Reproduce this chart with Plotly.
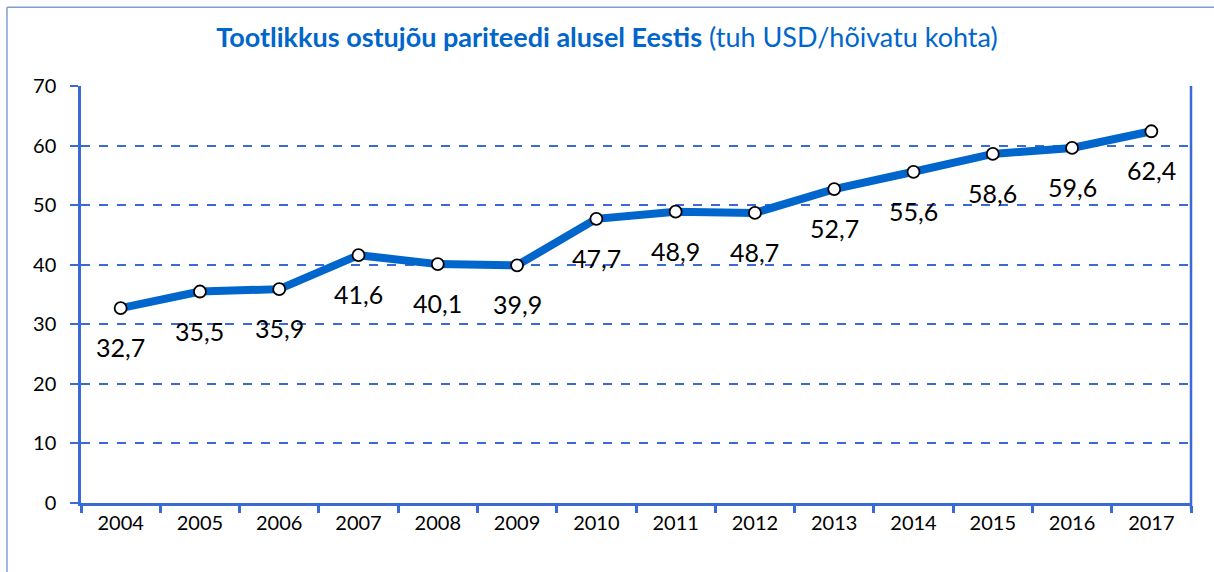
import plotly.graph_objects as go

# Labour productivity in PPP terms, Estonia
years = ["2004", "2005", "2006", "2007", "2008", "2009", "2010",
         "2011", "2012", "2013", "2014", "2015", "2016", "2017"]
productivity = [32.7, 35.5, 35.9, 41.6, 40.1, 39.9, 47.7,
                48.9, 48.7, 52.7, 55.6, 58.6, 59.6, 62.4]
y_ticks = [0, 10, 20, 30, 40, 50, 60, 70]

AXIS_BLUE = "#3A6AD4"
LINE_BLUE = "#0066CC"
FRAME_BLUE = "#7F9ED8"
FONT = "Lato, Calibri, Arial, sans-serif"

fig = go.Figure()
fig.add_trace(go.Scatter(
    x=years, y=productivity, mode="lines+markers",
    line=dict(color=LINE_BLUE, width=8),
    marker=dict(size=12, color="white", line=dict(color="black", width=1.8)),
    hoverinfo="x+y", showlegend=False,
))

# value labels under each point, decimal comma (x given as category index)
for i, v in enumerate(productivity):
    fig.add_annotation(
        x=i, y=v, xref="x", yref="y", text=f"{v:.1f}".replace(".", ","),
        showarrow=False, yshift=-39,
        font=dict(family=FONT, size=25, color="black"),
    )

# right-hand border of the plot area
fig.add_shape(type="line", xref="x domain", yref="y domain",
              x0=1, x1=1, y0=-0.014, y1=1,
              line=dict(color=AXIS_BLUE, width=2.5))

# outer chart frame (top and left edges)
fig.add_shape(type="line", xref="paper", yref="paper",
              x0=-0.0667, x1=1.03, y0=1.189, y1=1.189,
              line=dict(color=FRAME_BLUE, width=1.5))
fig.add_shape(type="line", xref="paper", yref="paper",
              x0=-0.0667, x1=-0.0667, y0=1.189, y1=-0.2,
              line=dict(color=FRAME_BLUE, width=1.5))

fig.update_layout(
    width=1214, height=572,
    margin=dict(l=81, r=23, t=86, b=69),
    paper_bgcolor="white", plot_bgcolor="white",
    font=dict(family=FONT, color="black"),
    title=dict(
        text="<b>Tootlikkus ostujõu pariteedi alusel Eestis</b> (tuh USD/hõivatu kohta)",
        x=0.5, xanchor="center", y=0.935, yanchor="middle",
        font=dict(family=FONT, size=27, color=LINE_BLUE),
    ),
    xaxis=dict(
        type="category", categoryorder="array", categoryarray=years,
        tickson="boundaries", ticks="outside", ticklen=7, tickwidth=2.5,
        tickcolor=AXIS_BLUE, showline=True, linecolor=AXIS_BLUE, linewidth=2.5,
        showgrid=False, tickfont=dict(family=FONT, size=20, color="black"),
        range=[-0.5, len(years) - 0.5], fixedrange=True,
    ),
    yaxis=dict(
        range=[0, 70], tickvals=y_ticks, ticks="outside", ticklen=8,
        tickwidth=2, tickcolor=AXIS_BLUE, showline=True, linecolor=AXIS_BLUE,
        linewidth=2.5, showgrid=True, gridcolor=AXIS_BLUE, gridwidth=1.6,
        griddash="dash", zeroline=False, ticklabelstandoff=10,
        tickfont=dict(family=FONT, size=20, color="black"), fixedrange=True,
    ),
)

fig.write_html("out.html")
